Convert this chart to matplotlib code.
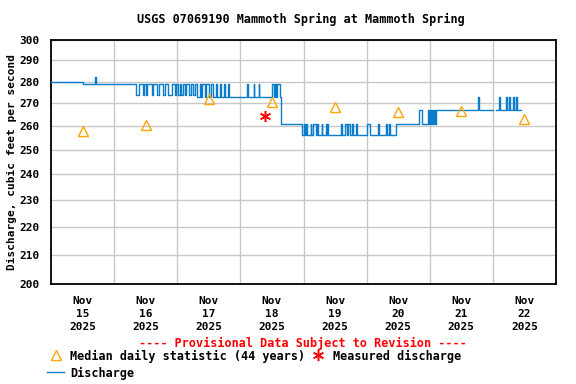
import matplotlib
matplotlib.use("Agg")
import matplotlib.pyplot as plt
from matplotlib.ticker import FixedLocator, NullLocator, FixedFormatter
from matplotlib.lines import Line2D

# hours since Nov 15 2025 00:00 where the 15-min discharge changes, and the new value
q_hours = [0.0, 12.2, 16.8, 17.1,
           32.4, 33.5, 35.0, 35.4, 36.2, 36.6, 38.5, 38.9, 40.4, 41.1, 42.7, 43.4,
           44.6, 46.1, 47.2, 47.6, 48.4, 49.1, 49.5, 50.3, 51.0, 51.4, 52.6, 53.3,
           54.1, 54.9, 55.6,
           56.8, 57.1, 57.5, 58.7, 59.0, 60.2, 61.0, 61.7, 62.9, 63.2, 64.4, 64.8,
           65.9, 66.3, 67.4, 67.8, 74.7, 75.0, 77.0, 77.3, 78.9, 79.2, 84.2, 84.6,
           85.0, 85.7, 86.1, 86.9, 87.6,
           95.6, 96.0, 96.4, 97.1, 97.5, 98.7, 99.0, 99.8, 100.6, 101.3, 101.7,
           102.9, 103.2, 104.4, 104.8, 105.1, 105.5, 110.1, 110.5, 111.6, 112.4,
           113.1, 113.5, 114.3, 114.7, 115.8, 116.2, 120.0, 121.1, 124.2, 124.6,
           127.2, 127.6, 128.4, 128.8, 131.0,
           139.8, 141.0, 143.2, 143.6, 144.0, 144.4, 144.8, 145.1, 145.5, 145.9, 146.3,
           162.3, 162.7, 168.0,
           169.1, 170.3, 170.7, 173.0, 173.3, 174.1, 174.5, 175.6, 176.0, 176.8,
           177.1, 178.7]
q_values = [280, 279, 282, 279,
            274, 279, 274, 279, 274, 279, 274, 279, 274, 279, 274, 279,
            274, 279, 274, 279, 274, 279, 274, 279, 274, 279, 274, 279,
            274, 279, 273,
            279, 273, 279, 273, 279, 273, 279, 273, 279, 273, 279, 273,
            279, 273, 279, 273, 279, 273, 279, 273, 279, 273, 279, 273,
            279, 273, 279, 273, 261,
            256, 261, 256, 261, 256, 261, 256, 261, 256, 261, 256,
            261, 256, 261, 256, 261, 256, 261, 256, 261, 256,
            261, 256, 261, 256, 261, 256, 261, 256, 261, 256,
            261, 256, 261, 256, 261,
            267, 261, 267, 261, 267, 261, 267, 261, 267, 261, 267,
            273, 267, float('nan'),
            267, 273, 267, 273, 267, 273, 267, 273, 267, 273,
            267, 267]

# median daily statistic at noon of each day
median_hours = [12, 36, 60, 84, 108, 132, 156, 180]
median_values = [258, 260.5, 272, 270.5, 268.5, 266, 266.5, 263]

measured_hours = [81.2]
measured_values = [264.3]

day_labels = ['Nov\n15\n2025', 'Nov\n16\n2025', 'Nov\n17\n2025', 'Nov\n18\n2025',
              'Nov\n19\n2025', 'Nov\n20\n2025', 'Nov\n21\n2025', 'Nov\n22\n2025']
y_ticks = [200, 210, 220, 230, 240, 250, 260, 270, 280, 290, 300]

mono = 'DejaVu Sans Mono'
blue = '#0a7ccc'

fig = plt.figure(figsize=(5.76, 3.84), dpi=100)
ax = fig.add_axes([51/576, 1-284/384, 505/576, 244/384])

ax.plot(q_hours, q_values, drawstyle='steps-post', color=blue, lw=1.0, zorder=3)
ax.plot(median_hours, median_values, ls='none', marker='^', ms=7, mfc='none',
        mec='#ffa500', mew=1.0, zorder=4)
ax.plot(measured_hours, measured_values, ls='none', marker=(6, 2, 0), ms=8,
        color='red', mew=1.1, zorder=4)

ax.set_yscale('log')
ax.set_ylim(200, 300)
ax.set_xlim(0, 192)
ax.yaxis.set_major_locator(FixedLocator(y_ticks))
ax.yaxis.set_major_formatter(FixedFormatter([str(v) for v in y_ticks]))
ax.yaxis.set_minor_locator(NullLocator())

ax.set_xticks(median_hours)
ax.set_xticklabels(day_labels)
ax.set_xticks([24 * i for i in range(1, 8)], minor=True)
ax.grid(True, which='minor', axis='x', color='#c8c8c8', lw=1)
ax.grid(True, which='major', axis='y', color='#c8c8c8', lw=1)
ax.tick_params(which='both', length=0)
ax.tick_params(axis='x', pad=9)
ax.tick_params(axis='y', pad=8)
for lab in ax.get_xticklabels() + ax.get_yticklabels():
    lab.set_fontfamily(mono)
    lab.set_fontweight('bold')
    lab.set_fontsize(8)
for lab in ax.get_xticklabels():
    lab.set_linespacing(1.35)
for s in ax.spines.values():
    s.set_linewidth(1.3)

ax.set_ylabel('Discharge, cubic feet per second', family=mono, weight='bold',
              fontsize=8)
ax.yaxis.set_label_coords(-0.068, 0.5)

fig.text(301/576, 1-19/384, 'USGS 07069190 Mammoth Spring at Mammoth Spring',
         family=mono, weight='bold', fontsize=8.5, ha='center', va='center')
fig.text(303/576, 1-343/384, '---- Provisional Data Subject to Revision ----',
         family=mono, weight='bold', fontsize=8.5, color='red', ha='center', va='center')

# legend drawn by hand
fig.add_artist(Line2D([56/576], [1-355/384], ls='none', marker='^', ms=7, mfc='none',
                      mec='#ffa500', mew=1.0))
fig.text(70/576, 1-356/384, 'Median daily statistic (44 years)', family=mono,
         weight='bold', fontsize=8.5, va='center')
fig.add_artist(Line2D([318/576], [1-355/384], ls='none', marker=(6, 2, 0), ms=8,
                      color='red', mew=1.1))
fig.text(333/576, 1-356/384, 'Measured discharge', family=mono,
         weight='bold', fontsize=8.5, va='center')
fig.add_artist(Line2D([47/576, 64/576], [1-372/384, 1-372/384], color=blue, lw=1.0))
fig.text(70/576, 1-373/384, 'Discharge', family=mono,
         weight='bold', fontsize=8.5, va='center')

fig.savefig('out.png', dpi=100)
